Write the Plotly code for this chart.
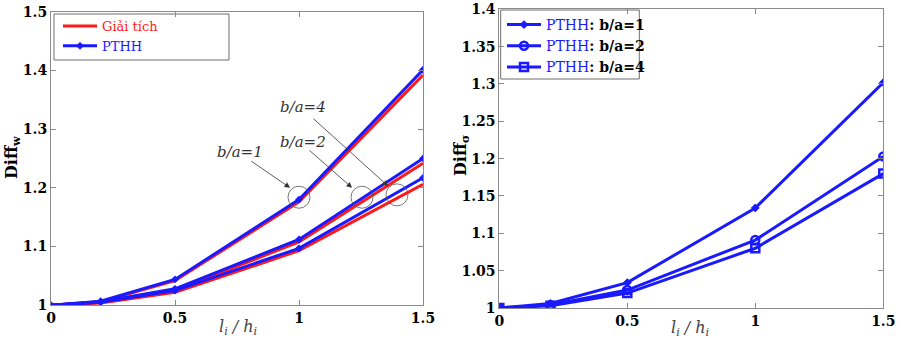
import plotly.graph_objects as go

# Span-to-depth ratio l_i / h_i
x_ratio = [0, 0.2, 0.5, 1, 1.5]

# Diff_w: analytical solution (Giải tích)
w_analytic_ba1 = [1.0, 1.006, 1.042, 1.176, 1.392]
w_analytic_ba2 = [1.0, 1.005, 1.025, 1.108, 1.242]
w_analytic_ba4 = [1.0, 1.004, 1.022, 1.093, 1.206]

# Diff_w: finite element solution (PTHH)
w_fem_ba1 = [1.0, 1.007, 1.044, 1.180, 1.401]
w_fem_ba2 = [1.0, 1.006, 1.028, 1.112, 1.250]
w_fem_ba4 = [1.0, 1.005, 1.025, 1.097, 1.217]

# Diff_sigma: finite element solution (PTHH)
s_fem_ba1 = [1.0, 1.006, 1.034, 1.134, 1.302]
s_fem_ba2 = [1.0, 1.004, 1.024, 1.091, 1.203]
s_fem_ba4 = [1.0, 1.003, 1.020, 1.080, 1.180]

left_yticks = [1.0, 1.1, 1.2, 1.3, 1.4, 1.5]
left_yticktext = ["1", "1.1", "1.2", "1.3", "1.4", "1.5"]
right_yticks = [1.0, 1.05, 1.1, 1.15, 1.2, 1.25, 1.3, 1.35, 1.4]
right_yticktext = ["1", "1.05", "1.1", "1.15", "1.2", "1.25", "1.3", "1.35", "1.4"]
xticks = [0, 0.5, 1, 1.5]
xticktext = ["0", "0.5", "1", "1.5"]

W, H = 901, 338
RED = "#ff1a1a"
BLUE = "#1a1aff"
SERIF = "DejaVu Serif"


def px_x(p):
    return p / W


def px_y(p):
    return 1 - p / H


fig = go.Figure()

# Left panel: analytical (red) under FEM (blue)
for i, ys in enumerate([w_analytic_ba1, w_analytic_ba2, w_analytic_ba4]):
    fig.add_trace(go.Scatter(
        x=x_ratio, y=ys, mode="lines", line=dict(color=RED, width=3),
        name=f"<span style='color:{RED}'>Giải tích</span>",
        showlegend=(i == 0), legend="legend", xaxis="x", yaxis="y"))
for i, ys in enumerate([w_fem_ba1, w_fem_ba2, w_fem_ba4]):
    fig.add_trace(go.Scatter(
        x=x_ratio, y=ys, mode="lines+markers", line=dict(color=BLUE, width=3),
        marker=dict(symbol="diamond", size=6, color=BLUE),
        name=f"<span style='color:{BLUE}'>PTHH</span>",
        showlegend=(i == 0), legend="legend", xaxis="x", yaxis="y"))

# Right panel: FEM stress ratio
right_series = [
    (s_fem_ba1, "diamond", 6, 1, "1"),
    (s_fem_ba2, "circle-open", 8, 2.5, "2"),
    (s_fem_ba4, "square-open", 8, 2.5, "4"),
]
for ys, sym, sz, lw, ba in right_series:
    fig.add_trace(go.Scatter(
        x=x_ratio, y=ys, mode="lines+markers", line=dict(color=BLUE, width=3),
        marker=dict(symbol=sym, size=sz, color=BLUE, line=dict(color=BLUE, width=lw)),
        name=(f"<span style='color:{BLUE}'>PTHH</span>"
              f"<span style='color:black'><b>: b/a={ba}</b></span>"),
        legend="legend2", xaxis="x2", yaxis="y2"))

axis_common = dict(
    showline=True, mirror="ticks", linecolor="#8a8a8a", linewidth=1,
    ticks="inside", ticklen=5, tickcolor="#8a8a8a", showgrid=False,
    zeroline=False, automargin=False, ticklabeloverflow="allow",
    tickfont=dict(family=SERIF, size=14, color="black", weight="bold"),
)

fig.update_layout(
    width=W, height=H,
    margin=dict(l=0, r=0, t=0, b=0),
    paper_bgcolor="white", plot_bgcolor="white",
    template=None,
    font=dict(family=SERIF),
    xaxis=dict(domain=[px_x(51), px_x(423)], range=[0, 1.5],
               tickvals=xticks, ticktext=xticktext, anchor="y", **axis_common),
    yaxis=dict(domain=[px_y(305.3), px_y(11.6)], range=[1, 1.5],
               tickvals=left_yticks, ticktext=left_yticktext, anchor="x", **axis_common),
    xaxis2=dict(domain=[px_x(499.3), px_x(883.3)], range=[0, 1.5],
                tickvals=xticks, ticktext=xticktext, anchor="y2", **axis_common),
    yaxis2=dict(domain=[px_y(308), px_y(9.3)], range=[1, 1.4],
                tickvals=right_yticks, ticktext=right_yticktext, anchor="x2", **axis_common),
    legend=dict(x=px_x(58), y=px_y(11), xanchor="left", yanchor="top",
                bgcolor="rgba(0,0,0,0)", borderwidth=0,
                font=dict(family=SERIF, size=13), itemwidth=34),
    legend2=dict(x=px_x(502), y=px_y(9), xanchor="left", yanchor="top",
                 bgcolor="rgba(0,0,0,0)", borderwidth=0,
                 font=dict(family=SERIF, size=14), itemwidth=34),
    showlegend=True,
)

# Legend frames
fig.add_shape(type="rect", xref="paper", yref="paper",
              x0=px_x(54), x1=px_x(229), y0=px_y(60), y1=px_y(14),
              line=dict(color="#6e6e6e", width=1), layer="below")
fig.add_shape(type="rect", xref="paper", yref="paper",
              x0=px_x(500.7), x1=px_x(639.3), y0=px_y(79), y1=px_y(10),
              line=dict(color="#6e6e6e", width=1), layer="below")

# Axis titles
title_kw = dict(xref="paper", yref="paper", showarrow=False,
                xanchor="center", yanchor="middle")
fig.add_annotation(text="<b>Diff<sub>w</sub></b>", x=px_x(13), y=px_y(158),
                   textangle=-90, font=dict(family=SERIF, size=16, color="black"),
                   **title_kw)
fig.add_annotation(text="<b>Diff<sub>σ</sub></b>", x=px_x(461), y=px_y(156),
                   textangle=-90, font=dict(family=SERIF, size=16, color="black"),
                   **title_kw)
fig.add_annotation(text="<i>l<sub>i</sub> / h<sub>i</sub></i>", x=px_x(238), y=px_y(327),
                   font=dict(family=SERIF, size=16, color="#444444"), **title_kw)
fig.add_annotation(text="<i>l<sub>i</sub> / h<sub>i</sub></i>", x=px_x(690), y=px_y(328),
                   font=dict(family=SERIF, size=16, color="#444444"), **title_kw)

# b/a callouts on the left panel: label, arrow and circle
callouts = [
    ("b/a=1", (0.762, 1.261), (0.802, 1.247), (0.964, 1.200), (1.0, 1.184)),
    ("b/a=2", (1.016, 1.278), (1.036, 1.266), (1.214, 1.200), (1.254, 1.184)),
    ("b/a=4", (1.016, 1.338), (1.052, 1.320), (1.359, 1.203), (1.395, 1.188)),
]
for label, pos, tail, tip, centre in callouts:
    fig.add_annotation(text=f"<i>{label}</i>", x=pos[0], y=pos[1], xref="x", yref="y",
                       xanchor="center", yanchor="middle", showarrow=False,
                       font=dict(family=SERIF, size=15, color="#333333"))
    fig.add_annotation(text="", x=tip[0], y=tip[1], ax=tail[0], ay=tail[1],
                       xref="x", yref="y", axref="x", ayref="y",
                       showarrow=True, arrowhead=2, arrowsize=1.4, arrowwidth=0.8,
                       arrowcolor="#333333")
    fig.add_shape(type="circle", xref="x", yref="y",
                  xsizemode="pixel", ysizemode="pixel",
                  xanchor=centre[0], yanchor=centre[1],
                  x0=-11, x1=11, y0=-11, y1=11,
                  line=dict(color="#555555", width=0.8))

fig.write_html("out.html")
